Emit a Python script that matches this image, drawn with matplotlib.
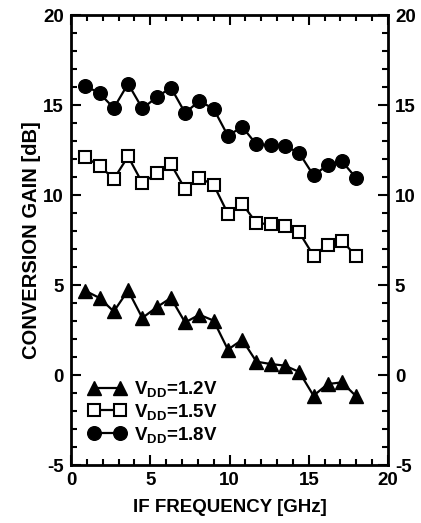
import matplotlib
matplotlib.use('Agg')
import matplotlib.pyplot as plt
from matplotlib.ticker import MultipleLocator

plt.rcParams['font.family'] = ['Liberation Sans', 'DejaVu Sans']
plt.rcParams['font.weight'] = 'bold'
plt.rcParams['axes.unicode_minus'] = False
plt.rcParams['mathtext.fontset'] = 'custom'
plt.rcParams['mathtext.rm'] = 'Liberation Sans:bold'
plt.rcParams['mathtext.bf'] = 'Liberation Sans:bold'
plt.rcParams['mathtext.default'] = 'bf'

freq = [0.9, 1.8, 2.7, 3.6, 4.5, 5.4, 6.3, 7.2, 8.1, 9.0,
        9.9, 10.8, 11.7, 12.6, 13.5, 14.4, 15.3, 16.2, 17.1, 18.0]

gain_12 = [4.68, 4.28, 3.53, 4.70, 3.17, 3.76, 4.28, 2.92, 3.35, 3.02,
           1.41, 1.96, 0.74, 0.61, 0.52, 0.17, -1.15, -0.50, -0.41, -1.19]
gain_15 = [12.09, 11.63, 10.89, 12.14, 10.67, 11.20, 11.72, 10.33, 10.94, 10.57,
           8.96, 9.52, 8.44, 8.37, 8.28, 7.92, 6.63, 7.24, 7.46, 6.59]
gain_18 = [16.07, 15.65, 14.83, 16.18, 14.81, 15.42, 15.97, 14.56, 15.23, 14.78,
           13.29, 13.79, 12.81, 12.77, 12.73, 12.33, 11.09, 11.67, 11.87, 10.93]

labels = ['V$_{DD}$=1.2V', 'V$_{DD}$=1.5V', 'V$_{DD}$=1.8V']

fig = plt.figure(figsize=(4.21, 5.23), dpi=100)
ax = fig.add_axes([71 / 421, 58 / 523, 317 / 421, 450 / 523])

ax.plot(freq, gain_12, '-^', color='black', lw=1.6, ms=9.5,
        mfc='black', mec='black', label=labels[0])
ax.plot(freq, gain_15, '-s', color='black', lw=1.6, ms=8,
        mfc='white', mec='black', mew=1.5, label=labels[1])
ax.plot(freq, gain_18, '-o', color='black', lw=1.6, ms=9.8,
        mfc='black', mec='black', label=labels[2])

ax.set_xlim(0, 20)
ax.set_ylim(-5, 20)
ax.xaxis.set_major_locator(MultipleLocator(5))
ax.xaxis.set_minor_locator(MultipleLocator(1))
ax.yaxis.set_major_locator(MultipleLocator(5))
ax.yaxis.set_minor_locator(MultipleLocator(1))
ax.tick_params(which='both', direction='in', top=True, right=True,
               labelright=True, width=1.5, labelsize=13.5, pad=5)
ax.tick_params(which='major', length=7)
ax.tick_params(which='minor', length=4)
for s in ax.spines.values():
    s.set_linewidth(2)

ax.set_xlabel('IF FREQUENCY [GHz]', fontsize=13.5, fontweight='bold', labelpad=7)
ax.set_ylabel('CONVERSION GAIN [dB]', fontsize=14.5, fontweight='bold', labelpad=2)

ax.legend(loc='lower left', bbox_to_anchor=(0.02, 0.02), frameon=False,
          numpoints=2, handlelength=2.0, fontsize=13.5, labelspacing=0.15,
          handletextpad=0.4, borderaxespad=0.2)

fig.savefig('out.png', dpi=100)
